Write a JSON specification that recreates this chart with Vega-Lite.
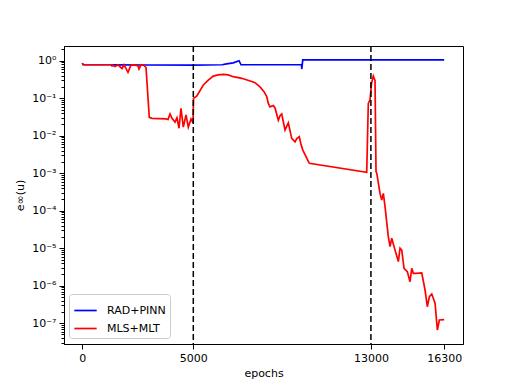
{
  "$schema": "https://vega.github.io/schema/vega-lite/v6.json",
  "width": 399,
  "height": 298,
  "autosize": "none",
  "padding": {"left": 64, "top": 46, "right": 51, "bottom": 42},
  "background": "white",
  "config": {
    "font": "DejaVu Sans",
    "view": {"stroke": "black", "strokeWidth": 1},
    "axis": {
      "grid": false,
      "domainColor": "black",
      "tickColor": "black",
      "labelColor": "black",
      "titleColor": "black",
      "labelFont": "DejaVu Sans",
      "titleFont": "DejaVu Sans",
      "labelFontSize": 11,
      "titleFontSize": 11,
      "titleFontWeight": "normal",
      "tickSize": 5,
      "labelPadding": 3
    }
  },
  "datasets": {
    "curves": [
      {"method": "RAD+PINN", "epoch": 0, "error": 0.86},
      {"method": "RAD+PINN", "epoch": 40, "error": 0.78},
      {"method": "RAD+PINN", "epoch": 1300, "error": 0.78},
      {"method": "RAD+PINN", "epoch": 1340, "error": 0.73},
      {"method": "RAD+PINN", "epoch": 1400, "error": 0.78},
      {"method": "RAD+PINN", "epoch": 3000, "error": 0.77},
      {"method": "RAD+PINN", "epoch": 5000, "error": 0.76},
      {"method": "RAD+PINN", "epoch": 6300, "error": 0.78},
      {"method": "RAD+PINN", "epoch": 6500, "error": 0.82},
      {"method": "RAD+PINN", "epoch": 6800, "error": 0.88},
      {"method": "RAD+PINN", "epoch": 7060, "error": 1.0},
      {"method": "RAD+PINN", "epoch": 7150, "error": 0.78},
      {"method": "RAD+PINN", "epoch": 9875, "error": 0.78},
      {"method": "RAD+PINN", "epoch": 9885, "error": 0.6},
      {"method": "RAD+PINN", "epoch": 9930, "error": 1.05},
      {"method": "RAD+PINN", "epoch": 16300, "error": 1.05},
      {"method": "MLS+MLT", "epoch": 0, "error": 0.86},
      {"method": "MLS+MLT", "epoch": 40, "error": 0.78},
      {"method": "MLS+MLT", "epoch": 1338, "error": 0.78},
      {"method": "MLS+MLT", "epoch": 1473, "error": 0.7},
      {"method": "MLS+MLT", "epoch": 1608, "error": 0.78},
      {"method": "MLS+MLT", "epoch": 1788, "error": 0.62},
      {"method": "MLS+MLT", "epoch": 1879, "error": 0.78},
      {"method": "MLS+MLT", "epoch": 2059, "error": 0.49},
      {"method": "MLS+MLT", "epoch": 2194, "error": 0.76},
      {"method": "MLS+MLT", "epoch": 2374, "error": 0.77},
      {"method": "MLS+MLT", "epoch": 2509, "error": 0.72},
      {"method": "MLS+MLT", "epoch": 2554, "error": 0.6},
      {"method": "MLS+MLT", "epoch": 2644, "error": 0.78},
      {"method": "MLS+MLT", "epoch": 2780, "error": 0.75},
      {"method": "MLS+MLT", "epoch": 2870, "error": 0.66},
      {"method": "MLS+MLT", "epoch": 3018, "error": 0.031},
      {"method": "MLS+MLT", "epoch": 3140, "error": 0.029},
      {"method": "MLS+MLT", "epoch": 3771, "error": 0.028},
      {"method": "MLS+MLT", "epoch": 3861, "error": 0.027},
      {"method": "MLS+MLT", "epoch": 3951, "error": 0.038},
      {"method": "MLS+MLT", "epoch": 4041, "error": 0.029},
      {"method": "MLS+MLT", "epoch": 4176, "error": 0.023},
      {"method": "MLS+MLT", "epoch": 4266, "error": 0.03},
      {"method": "MLS+MLT", "epoch": 4356, "error": 0.0158},
      {"method": "MLS+MLT", "epoch": 4446, "error": 0.054},
      {"method": "MLS+MLT", "epoch": 4550, "error": 0.017},
      {"method": "MLS+MLT", "epoch": 4671, "error": 0.036},
      {"method": "MLS+MLT", "epoch": 4775, "error": 0.017},
      {"method": "MLS+MLT", "epoch": 4897, "error": 0.028},
      {"method": "MLS+MLT", "epoch": 4987, "error": 0.022},
      {"method": "MLS+MLT", "epoch": 5010, "error": 0.1},
      {"method": "MLS+MLT", "epoch": 5154, "error": 0.114},
      {"method": "MLS+MLT", "epoch": 5451, "error": 0.225},
      {"method": "MLS+MLT", "epoch": 5663, "error": 0.3},
      {"method": "MLS+MLT", "epoch": 5902, "error": 0.39},
      {"method": "MLS+MLT", "epoch": 6113, "error": 0.42},
      {"method": "MLS+MLT", "epoch": 6352, "error": 0.43},
      {"method": "MLS+MLT", "epoch": 6564, "error": 0.42},
      {"method": "MLS+MLT", "epoch": 6802, "error": 0.375},
      {"method": "MLS+MLT", "epoch": 7181, "error": 0.34},
      {"method": "MLS+MLT", "epoch": 7631, "error": 0.28},
      {"method": "MLS+MLT", "epoch": 7780, "error": 0.26},
      {"method": "MLS+MLT", "epoch": 8005, "error": 0.2},
      {"method": "MLS+MLT", "epoch": 8185, "error": 0.15},
      {"method": "MLS+MLT", "epoch": 8307, "error": 0.11},
      {"method": "MLS+MLT", "epoch": 8379, "error": 0.073},
      {"method": "MLS+MLT", "epoch": 8456, "error": 0.059},
      {"method": "MLS+MLT", "epoch": 8604, "error": 0.064},
      {"method": "MLS+MLT", "epoch": 8681, "error": 0.055},
      {"method": "MLS+MLT", "epoch": 8830, "error": 0.026},
      {"method": "MLS+MLT", "epoch": 8906, "error": 0.034},
      {"method": "MLS+MLT", "epoch": 8982, "error": 0.038},
      {"method": "MLS+MLT", "epoch": 9131, "error": 0.0142},
      {"method": "MLS+MLT", "epoch": 9280, "error": 0.022},
      {"method": "MLS+MLT", "epoch": 9433, "error": 0.0085},
      {"method": "MLS+MLT", "epoch": 9581, "error": 0.0069},
      {"method": "MLS+MLT", "epoch": 9671, "error": 0.0085},
      {"method": "MLS+MLT", "epoch": 9775, "error": 0.0094},
      {"method": "MLS+MLT", "epoch": 9838, "error": 0.0063},
      {"method": "MLS+MLT", "epoch": 9928, "error": 0.0042},
      {"method": "MLS+MLT", "epoch": 10225, "error": 0.00184},
      {"method": "MLS+MLT", "epoch": 12811, "error": 0.00106},
      {"method": "MLS+MLT", "epoch": 12883, "error": 0.073},
      {"method": "MLS+MLT", "epoch": 12960, "error": 0.09},
      {"method": "MLS+MLT", "epoch": 13027, "error": 0.25},
      {"method": "MLS+MLT", "epoch": 13108, "error": 0.39},
      {"method": "MLS+MLT", "epoch": 13185, "error": 0.3},
      {"method": "MLS+MLT", "epoch": 13230, "error": 0.0011},
      {"method": "MLS+MLT", "epoch": 13263, "error": 0.001},
      {"method": "MLS+MLT", "epoch": 13411, "error": 0.00029},
      {"method": "MLS+MLT", "epoch": 13487, "error": 0.000193},
      {"method": "MLS+MLT", "epoch": 13560, "error": 0.00029},
      {"method": "MLS+MLT", "epoch": 13636, "error": 0.000128},
      {"method": "MLS+MLT", "epoch": 13785, "error": 0.00002},
      {"method": "MLS+MLT", "epoch": 13862, "error": 0.000011},
      {"method": "MLS+MLT", "epoch": 13938, "error": 0.0000184},
      {"method": "MLS+MLT", "epoch": 14087, "error": 0.0000089},
      {"method": "MLS+MLT", "epoch": 14236, "error": 0.0000044},
      {"method": "MLS+MLT", "epoch": 14312, "error": 0.00001},
      {"method": "MLS+MLT", "epoch": 14389, "error": 0.0000089},
      {"method": "MLS+MLT", "epoch": 14492, "error": 0.0000029},
      {"method": "MLS+MLT", "epoch": 14641, "error": 0.00000236},
      {"method": "MLS+MLT", "epoch": 14762, "error": 0.00000128},
      {"method": "MLS+MLT", "epoch": 14839, "error": 0.0000029},
      {"method": "MLS+MLT", "epoch": 14911, "error": 0.00000214},
      {"method": "MLS+MLT", "epoch": 15032, "error": 0.00000214},
      {"method": "MLS+MLT", "epoch": 15290, "error": 0.0000022},
      {"method": "MLS+MLT", "epoch": 15438, "error": 0.00000077},
      {"method": "MLS+MLT", "epoch": 15542, "error": 0.000000275},
      {"method": "MLS+MLT", "epoch": 15633, "error": 0.00000051},
      {"method": "MLS+MLT", "epoch": 15741, "error": 0.0000006},
      {"method": "MLS+MLT", "epoch": 15890, "error": 0.00000034},
      {"method": "MLS+MLT", "epoch": 15993, "error": 0.000000066},
      {"method": "MLS+MLT", "epoch": 16083, "error": 0.000000122},
      {"method": "MLS+MLT", "epoch": 16300, "error": 0.000000125}
    ],
    "vlines": [{"epoch": 5000}, {"epoch": 13000}],
    "minor": [
      {"v": 3e-8}, {"v": 4e-8}, {"v": 5e-8}, {"v": 6e-8}, {"v": 7e-8}, {"v": 8e-8}, {"v": 9e-8},
      {"v": 2e-7}, {"v": 3e-7}, {"v": 4e-7}, {"v": 5e-7}, {"v": 6e-7}, {"v": 7e-7}, {"v": 8e-7}, {"v": 9e-7},
      {"v": 2e-6}, {"v": 3e-6}, {"v": 4e-6}, {"v": 5e-6}, {"v": 6e-6}, {"v": 7e-6}, {"v": 8e-6}, {"v": 9e-6},
      {"v": 2e-5}, {"v": 3e-5}, {"v": 4e-5}, {"v": 5e-5}, {"v": 6e-5}, {"v": 7e-5}, {"v": 8e-5}, {"v": 9e-5},
      {"v": 2e-4}, {"v": 3e-4}, {"v": 4e-4}, {"v": 5e-4}, {"v": 6e-4}, {"v": 7e-4}, {"v": 8e-4}, {"v": 9e-4},
      {"v": 2e-3}, {"v": 3e-3}, {"v": 4e-3}, {"v": 5e-3}, {"v": 6e-3}, {"v": 7e-3}, {"v": 8e-3}, {"v": 9e-3},
      {"v": 2e-2}, {"v": 3e-2}, {"v": 4e-2}, {"v": 5e-2}, {"v": 6e-2}, {"v": 7e-2}, {"v": 8e-2}, {"v": 9e-2},
      {"v": 0.2}, {"v": 0.3}, {"v": 0.4}, {"v": 0.5}, {"v": 0.6}, {"v": 0.7}, {"v": 0.8}, {"v": 0.9},
      {"v": 2}
    ]
  },
  "layer": [
    {
      "data": {"name": "minor"},
      "mark": {"type": "point", "opacity": 0},
      "encoding": {
        "y": {
          "field": "v",
          "type": "quantitative",
          "scale": {"type": "log", "domain": [2.79e-8, 2.47], "nice": false},
          "axis": {
            "orient": "left",
            "values": [3e-8, 4e-8, 5e-8, 6e-8, 7e-8, 8e-8, 9e-8, 2e-7, 3e-7, 4e-7, 5e-7, 6e-7, 7e-7, 8e-7, 9e-7, 2e-6, 3e-6, 4e-6, 5e-6, 6e-6, 7e-6, 8e-6, 9e-6, 2e-5, 3e-5, 4e-5, 5e-5, 6e-5, 7e-5, 8e-5, 9e-5, 2e-4, 3e-4, 4e-4, 5e-4, 6e-4, 7e-4, 8e-4, 9e-4, 2e-3, 3e-3, 4e-3, 5e-3, 6e-3, 7e-3, 8e-3, 9e-3, 0.02, 0.03, 0.04, 0.05, 0.06, 0.07, 0.08, 0.09, 0.2, 0.3, 0.4, 0.5, 0.6, 0.7, 0.8, 0.9, 2],
            "labels": false,
            "tickSize": 3,
            "domain": false,
            "title": null
          }
        }
      }
    },
    {
      "data": {"name": "curves"},
      "mark": {"type": "line", "strokeWidth": 1.7, "clip": true},
      "encoding": {
        "x": {
          "field": "epoch",
          "type": "quantitative",
          "scale": {"domain": [-824, 17148], "nice": false, "zero": false},
          "axis": {"values": [0, 5000, 13000, 16300], "format": "d", "title": "epochs", "titlePadding": 4}
        },
        "y": {
          "field": "error",
          "type": "quantitative",
          "scale": {"type": "log", "domain": [2.79e-8, 2.47], "nice": false},
          "axis": {
            "orient": "left",
            "values": [1, 0.1, 0.01, 0.001, 0.0001, 0.00001, 0.000001, 0.0000001],
            "labelExpr": "'10' + (datum.value >= 0.5 ? '⁰' : '⁻' + ['', '¹', '²', '³', '⁴', '⁵', '⁶', '⁷', '⁸'][round(-log(datum.value) / LN10)])",
            "title": "e∞(u)",
            "titlePadding": 6
          }
        },
        "color": {
          "field": "method",
          "type": "nominal",
          "scale": {"domain": ["RAD+PINN", "MLS+MLT"], "range": ["#0000ff", "#ff0000"]},
          "legend": {
            "title": null,
            "orient": "none",
            "legendX": 5,
            "legendY": 248,
            "symbolType": "stroke",
            "symbolSize": 500,
            "symbolStrokeWidth": 1.7,
            "labelFontSize": 11,
            "labelFont": "DejaVu Sans",
            "labelColor": "black",
            "fillColor": "white",
            "strokeColor": "#cccccc",
            "cornerRadius": 3,
            "padding": 4,
            "rowPadding": 0,
            "labelOffset": 9
          }
        }
      }
    },
    {
      "data": {"name": "vlines"},
      "mark": {"type": "rule", "color": "black", "strokeWidth": 1.5, "strokeDash": [6, 3]},
      "encoding": {
        "x": {"field": "epoch", "type": "quantitative"}
      }
    }
  ],
  "resolve": {"axis": {"y": "independent"}}
}
